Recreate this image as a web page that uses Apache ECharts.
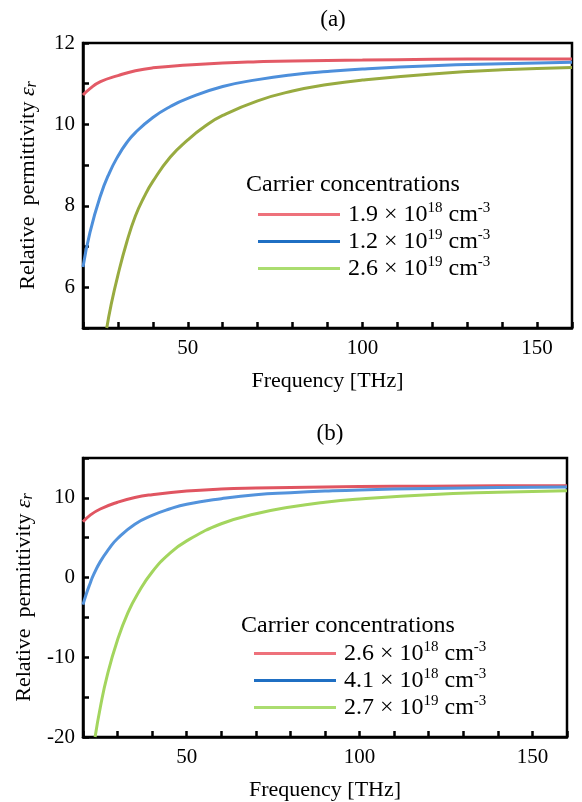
<!DOCTYPE html>
<html>
<head>
<meta charset="utf-8">
<script src="https://cdn.jsdelivr.net/npm/echarts@6/dist/echarts.min.js"></script>
<style>
  html, body { margin: 0; padding: 0; background: #fff; }
  #chart { width: 582px; height: 802px; }
</style>
</head>
<body>
<div id="chart"></div>
<script>
// panel (a)
const freqRedA = [20, 22, 25, 30, 35, 40, 50, 60, 70, 80, 100, 120, 140, 160]
const epsRedA = [10.72, 10.88, 11.05, 11.2, 11.32, 11.39, 11.46, 11.51, 11.54, 11.56, 11.58, 11.6, 11.61, 11.61]
const freqBlueA = [20, 22, 25, 27.5, 30, 32.5, 35, 40, 45, 50, 60, 70, 80, 90, 100, 120, 140, 160]
const epsBlueA = [6.5, 7.35, 8.25, 8.8, 9.22, 9.55, 9.8, 10.17, 10.44, 10.64, 10.93, 11.1, 11.22, 11.3, 11.36, 11.44, 11.49, 11.53]
const freqGreenA = [26.8, 28, 30, 32.5, 35, 37.5, 40, 45, 50, 55, 60, 70, 80, 90, 100, 120, 140, 160]
const epsGreenA = [5.0, 5.55, 6.3, 7.1, 7.75, 8.22, 8.6, 9.2, 9.62, 9.96, 10.22, 10.58, 10.82, 10.98, 11.09, 11.24, 11.34, 11.4]

// panel (b)
const freqRedB = [20, 22, 25, 30, 35, 40, 50, 60, 70, 80, 100, 120, 140, 160]
const epsRedB = [7.0, 7.8, 8.6, 9.45, 10.05, 10.4, 10.85, 11.1, 11.23, 11.31, 11.41, 11.47, 11.51, 11.53]
const freqBlueB = [20, 21, 22, 23, 25, 27.5, 30, 35, 40, 45, 50, 60, 70, 80, 90, 100, 120, 140, 160]
const epsBlueB = [-3.4, -2.0, -0.8, 0.3, 2.0, 3.6, 4.9, 6.7, 7.8, 8.6, 9.2, 9.9, 10.4, 10.65, 10.85, 11.0, 11.18, 11.3, 11.37]
const freqGreenB = [23.5, 25, 27, 30, 33, 36, 40, 45, 50, 60, 70, 80, 90, 100, 120, 140, 160]
const epsGreenB = [-20, -16.3, -12.3, -7.8, -4.4, -1.9, 0.7, 3.0, 4.6, 6.75, 8.0, 8.85, 9.45, 9.85, 10.4, 10.7, 10.9]

const namesA = ['1.9 × 10{sup|18} cm{sup|-3}', '1.2 × 10{sup|19} cm{sup|-3}', '2.6 × 10{sup|19} cm{sup|-3}']
const namesB = ['2.6 × 10{sup|18} cm{sup|-3}', '4.1 × 10{sup|18} cm{sup|-3}', '2.7 × 10{sup|19} cm{sup|-3}']
const xTicks = [50, 100, 150]

const FONT = '"Liberation Serif", "DejaVu Serif", serif'
const zip = (xs, ys) => xs.map((x, i) => [x, ys[i]])

const chart = echarts.init(document.getElementById('chart'))

const xAxisBase = (gridIndex) => ({
  type: 'value',
  gridIndex,
  min: 20,
  max: 160,
  interval: 10,
  name: 'Frequency [THz]',
  nameLocation: 'middle',
  nameGap: 42,
  nameTextStyle: { fontFamily: FONT, fontSize: 22, color: '#000' },
  axisLine: { show: true, onZero: false, lineStyle: { color: '#000', width: 2.5 } },
  axisTick: { show: true, inside: true, length: 6, lineStyle: { color: '#000', width: 2.5 } },
  axisLabel: {
    fontFamily: FONT, fontSize: 21, color: '#000', margin: 10,
    formatter: v => (xTicks.includes(v) ? String(v) : '')
  },
  splitLine: { show: false }
})

const yName = 'Relative  permittivity {e|ε}{s|r}'
const yNameStyle = {
  fontFamily: FONT, fontSize: 22, color: '#000',
  rich: {
    e: { fontFamily: FONT, fontSize: 22, fontStyle: 'italic', color: '#000' },
    s: { fontFamily: FONT, fontSize: 16, fontStyle: 'italic', color: '#000', padding: [8, 0, 0, 0] }
  }
}

const yAxisBase = (gridIndex, min, max, interval, showEvery) => ({
  type: 'value',
  gridIndex,
  min, max, interval,
  name: yName,
  nameLocation: 'middle',
  nameGap: 43,
  nameTextStyle: yNameStyle,
  axisLine: { show: true, onZero: false, lineStyle: { color: '#000', width: 2.5 } },
  axisTick: { show: true, inside: true, length: 6, lineStyle: { color: '#000', width: 2.5 } },
  axisLabel: {
    fontFamily: FONT, fontSize: 21, color: '#000', margin: 8,
    formatter: v => (v % showEvery === 0 ? String(v) : '')
  },
  splitLine: { show: false }
})

const legendRich = {
  sup: { fontFamily: FONT, fontSize: 15, color: '#000', verticalAlign: 'top', lineHeight: 27 }
}

const lineSeries = (name, data, color, idx) => ({
  name,
  type: 'line',
  xAxisIndex: idx,
  yAxisIndex: idx,
  data,
  showSymbol: false,
  symbol: 'none',
  smooth: 0.5,
  lineStyle: { color, width: 3 },
  itemStyle: { color },
  z: 3
})

const legendBlock = (names, colors, left, top) => ({
  orient: 'vertical',
  left, top,
  padding: 0,
  icon: 'rect',
  itemWidth: 82,
  itemHeight: 3,
  itemGap: 0,
  selectedMode: false,
  data: names.map((n, i) => ({ name: n, itemStyle: { color: colors[i] } })),
  textStyle: {
    fontFamily: FONT, fontSize: 24, color: '#000', lineHeight: 27,
    padding: [0, 0, 0, 3],
    rich: legendRich
  },
  formatter: n => n
})

const option = {
  animation: false,
  backgroundColor: '#fff',
  title: [
    { text: '(a)', left: 328, top: 3, textAlign: 'center', textStyle: { fontFamily: FONT, fontSize: 23, fontWeight: 'normal', color: '#000' } },
    { text: '(b)', left: 325, top: 417, textAlign: 'center', textStyle: { fontFamily: FONT, fontSize: 23, fontWeight: 'normal', color: '#000' } },
    { text: 'Carrier concentrations', left: 241, top: 168, textStyle: { fontFamily: FONT, fontSize: 24, fontWeight: 'normal', color: '#000' } },
    { text: 'Carrier concentrations', left: 236, top: 609, textStyle: { fontFamily: FONT, fontSize: 24, fontWeight: 'normal', color: '#000' } }
  ],
  grid: [
    { left: 83, top: 43, width: 489, height: 285, show: true, borderColor: '#000', borderWidth: 2.5, backgroundColor: 'transparent' },
    { left: 83, top: 458, width: 484, height: 284, show: true, borderColor: '#000', borderWidth: 2.5, backgroundColor: 'transparent' }
  ],
  xAxis: [xAxisBase(0), xAxisBase(1)],
  yAxis: [yAxisBase(0, 5, 12, 1, 2), yAxisBase(1, -20, 15, 5, 10)],
  legend: [
    legendBlock(namesA, ['#ee717b', '#1f6fc3', '#abdd70'], 258, 201),
    legendBlock(namesB, ['#ee717b', '#1f6fc3', '#abdd70'], 254, 640)
  ],
  series: [
    lineSeries(namesA[0], zip(freqRedA, epsRedA), '#e35a66', 0),
    lineSeries(namesA[1], zip(freqBlueA, epsBlueA), '#4d8fdb', 0),
    lineSeries(namesA[2], zip(freqGreenA, epsGreenA), '#98ab40', 0),
    lineSeries(namesB[0], zip(freqRedB, epsRedB), '#e05561', 1),
    lineSeries(namesB[1], zip(freqBlueB, epsBlueB), '#5393dc', 1),
    lineSeries(namesB[2], zip(freqGreenB, epsGreenB), '#a3d55e', 1)
  ]
}

chart.setOption(option)
</script>
</body>
</html>
